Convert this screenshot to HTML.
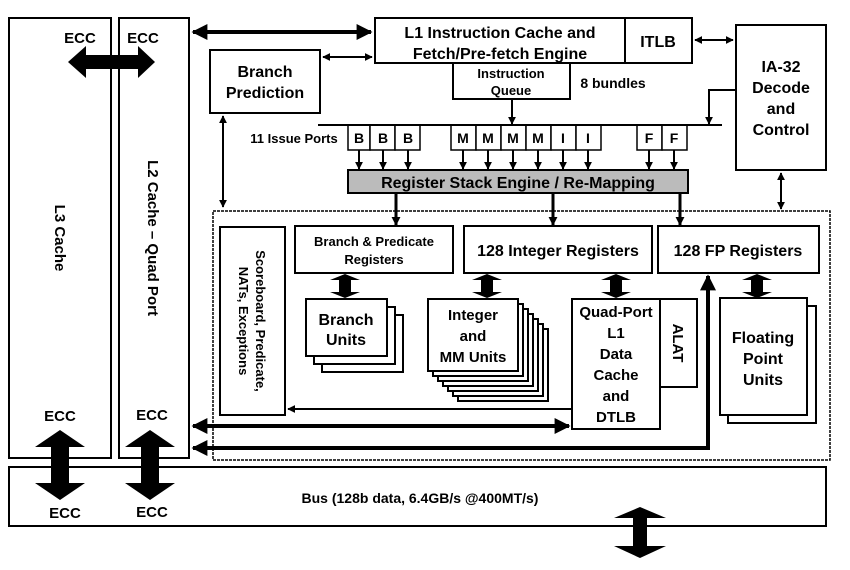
<!DOCTYPE html>
<html><head><meta charset="utf-8"><style>
html,body{margin:0;padding:0;background:#fff;}
svg{display:block;font-family:"Liberation Sans",Arial,sans-serif;font-weight:bold;}
</style></head><body>
<svg width="850" height="570" viewBox="0 0 850 570" xmlns="http://www.w3.org/2000/svg">
<defs>
<marker id="a" viewBox="0 0 10 10" refX="9" refY="5" markerWidth="4" markerHeight="4" orient="auto-start-reverse"><path d="M0,0L10,5L0,10z" fill="#000"/></marker>
<marker id="b" viewBox="0 0 10 10" refX="9" refY="5" markerWidth="3" markerHeight="3" orient="auto-start-reverse"><path d="M0,0L10,5L0,10z" fill="#000"/></marker>
</defs>
<g fill="#fff" stroke="#000" stroke-width="2">
<rect x="9" y="18" width="102" height="440"/>
<rect x="119" y="18" width="70" height="440"/>
<rect x="9" y="467" width="817" height="59"/>
<rect x="213" y="211" width="617" height="249" stroke-dasharray="3,1" stroke-width="1.5"/>
<rect x="375" y="18" width="250" height="45"/>
<rect x="625" y="18" width="67" height="45"/>
<rect x="736" y="25" width="90" height="145"/>
<rect x="210" y="50" width="110" height="63"/>
<rect x="453" y="63" width="117" height="36"/>
<rect x="220" y="227" width="65" height="188"/>
<rect x="295" y="226" width="158" height="47"/>
<rect x="464" y="226" width="188" height="47"/>
<rect x="658" y="226" width="161" height="47"/>
<rect x="322" y="315" width="81" height="57"/><rect x="314" y="307" width="81" height="57"/><rect x="306" y="299" width="81" height="57"/>
<rect x="458" y="329" width="90" height="72"/><rect x="453" y="324" width="90" height="72"/><rect x="448" y="319" width="90" height="72"/><rect x="443" y="314" width="90" height="72"/><rect x="438" y="309" width="90" height="72"/><rect x="433" y="304" width="90" height="72"/><rect x="428" y="299" width="90" height="72"/>
<rect x="660" y="299" width="37" height="88"/>
<rect x="572" y="299" width="88" height="130"/>
<rect x="728" y="306" width="88" height="117"/><rect x="720" y="298" width="87" height="117"/>
<rect x="348" y="170" width="340" height="23" fill="#bbb"/>
</g>
<g fill="#fff" stroke="#000" stroke-width="1.5">
<rect x="348" y="125" width="22" height="25"/><rect x="370" y="125" width="25" height="25"/><rect x="395" y="125" width="25" height="25"/>
<rect x="451" y="125" width="25" height="25"/><rect x="476" y="125" width="25" height="25"/><rect x="501" y="125" width="25" height="25"/><rect x="526" y="125" width="25" height="25"/>
<rect x="551" y="125" width="25" height="25"/><rect x="576" y="125" width="25" height="25"/>
<rect x="637" y="125" width="25" height="25"/><rect x="662" y="125" width="25" height="25"/>
</g>
<g stroke="#000" fill="none">
<line x1="318" y1="125" x2="722" y2="125" stroke-width="2"/>
<line x1="193" y1="32" x2="371" y2="32" stroke-width="4" marker-start="url(#a)" marker-end="url(#a)"/>
<line x1="323" y1="57" x2="372" y2="57" stroke-width="2" marker-start="url(#a)" marker-end="url(#a)"/>
<line x1="695" y1="40" x2="733" y2="40" stroke-width="2" marker-start="url(#a)" marker-end="url(#a)"/>
<line x1="512" y1="99" x2="512" y2="124" stroke-width="2" marker-end="url(#a)"/>
<polyline points="736,90 709,90 709,124" stroke-width="2" marker-end="url(#a)"/>
<line x1="223" y1="116" x2="223" y2="207" stroke-width="2" marker-start="url(#a)" marker-end="url(#a)"/>
<line x1="781" y1="173" x2="781" y2="209" stroke-width="2" marker-start="url(#a)" marker-end="url(#a)"/>
<g stroke-width="2" marker-end="url(#a)">
<line x1="359" y1="150" x2="359" y2="169"/><line x1="383" y1="150" x2="383" y2="169"/><line x1="408" y1="150" x2="408" y2="169"/>
<line x1="463" y1="150" x2="463" y2="169"/><line x1="488" y1="150" x2="488" y2="169"/><line x1="513" y1="150" x2="513" y2="169"/><line x1="538" y1="150" x2="538" y2="169"/>
<line x1="563" y1="150" x2="563" y2="169"/><line x1="588" y1="150" x2="588" y2="169"/>
<line x1="649" y1="150" x2="649" y2="169"/><line x1="674" y1="150" x2="674" y2="169"/>
</g>
<g stroke-width="3" marker-end="url(#b)">
<line x1="396" y1="193" x2="396" y2="225"/><line x1="553" y1="193" x2="553" y2="225"/><line x1="680" y1="193" x2="680" y2="225"/>
</g>
<line x1="572" y1="409" x2="288" y2="409" stroke-width="2" marker-end="url(#a)"/>
<line x1="193" y1="426" x2="569" y2="426" stroke-width="4" marker-start="url(#a)" marker-end="url(#a)"/>
<polyline points="193,448 708,448 708,276" stroke-width="4" marker-start="url(#a)" marker-end="url(#a)"/>
</g>
<g fill="#000">
<path d="M68,62 L86,46 L86,55 L138,55 L138,46 L155,62 L138,78 L138,69 L86,69 L86,78 Z"/>
<path d="M60,430 L85,447 L69,447 L69,483 L85,483 L60,500 L35,483 L51,483 L51,447 L35,447 Z"/>
<path d="M150,430 L175,447 L159,447 L159,483 L175,483 L150,500 L125,483 L141,483 L141,447 L125,447 Z"/>
<path d="M640,507 L666,518 L647,518 L647,546 L666,546 L640,558 L614,546 L633,546 L633,518 L614,518 Z"/>
<path d="M345,274 L360,280 L351,280 L351,292 L360,292 L345,298 L330,292 L339,292 L339,280 L330,280 Z"/>
<path d="M487,274 L502,280 L493,280 L493,292 L502,292 L487,298 L472,292 L481,292 L481,280 L472,280 Z"/>
<path d="M616,274 L631,280 L622,280 L622,292 L631,292 L616,298 L601,292 L610,292 L610,280 L601,280 Z"/>
<path d="M757,274 L772,280 L763,280 L763,292 L772,292 L757,298 L742,292 L751,292 L751,280 L742,280 Z"/>
</g>
<g fill="#000" text-anchor="middle" font-size="15">
<text x="80" y="43">ECC</text><text x="143" y="43">ECC</text>
<text x="60" y="421">ECC</text><text x="152" y="420">ECC</text>
<text x="65" y="518">ECC</text><text x="152" y="517">ECC</text>
<text x="500" y="38" font-size="16">L1 Instruction Cache and</text>
<text x="500" y="59" font-size="16">Fetch/Pre-fetch Engine</text>
<text x="658" y="47" font-size="16">ITLB</text>
<text x="265" y="77" font-size="16">Branch</text><text x="265" y="98" font-size="16">Prediction</text>
<text x="511" y="78" font-size="13">Instruction</text><text x="511" y="95" font-size="13">Queue</text>
<text x="613" y="88" font-size="14" text-anchor="middle">8 bundles</text>
<text x="781" y="72" font-size="16">IA-32</text><text x="781" y="93" font-size="16">Decode</text><text x="781" y="114" font-size="16">and</text><text x="781" y="135" font-size="16">Control</text>
<text x="294" y="143" font-size="13">11 Issue Ports</text>
<g font-size="14"><text x="359" y="143">B</text><text x="383" y="143">B</text><text x="408" y="143">B</text>
<text x="463" y="143">M</text><text x="488" y="143">M</text><text x="513" y="143">M</text><text x="538" y="143">M</text>
<text x="563" y="143">I</text><text x="588" y="143">I</text><text x="649" y="143">F</text><text x="674" y="143">F</text></g>
<text x="518" y="188" font-size="16">Register Stack Engine / Re-Mapping</text>
<text x="374" y="246" font-size="13">Branch &amp; Predicate</text><text x="374" y="264" font-size="13">Registers</text>
<text x="558" y="256" font-size="16">128 Integer Registers</text>
<text x="738" y="256" font-size="16">128 FP Registers</text>
<text x="346" y="325" font-size="16">Branch</text><text x="346" y="345" font-size="16">Units</text>
<text x="473" y="320" font-size="15">Integer</text><text x="473" y="341" font-size="15">and</text><text x="473" y="362" font-size="15">MM Units</text>
<text x="616" y="317" font-size="15">Quad-Port</text><text x="616" y="338" font-size="15">L1</text><text x="616" y="359" font-size="15">Data</text><text x="616" y="380" font-size="15">Cache</text><text x="616" y="401" font-size="15">and</text><text x="616" y="422" font-size="15">DTLB</text>
<text x="763" y="343" font-size="16">Floating</text><text x="763" y="364" font-size="16">Point</text><text x="763" y="385" font-size="16">Units</text>
<text x="420" y="503" font-size="14">Bus (128b data, 6.4GB/s @400MT/s)</text>
<text transform="translate(55,238) rotate(90)" x="0" y="0" font-size="15" text-anchor="middle">L3 Cache</text>
<text transform="translate(148,238) rotate(90)" x="0" y="0" font-size="15" text-anchor="middle">L2 Cache – Quad Port</text>
<text transform="translate(673,343) rotate(90)" font-size="15">ALAT</text>
<text transform="translate(256,321) rotate(90)" x="0" y="0" font-size="13">Scoreboard, Predicate,</text>
<text transform="translate(239,321) rotate(90)" x="0" y="0" font-size="13">NATs, Exceptions</text>
</g>
</svg>
</body></html>
